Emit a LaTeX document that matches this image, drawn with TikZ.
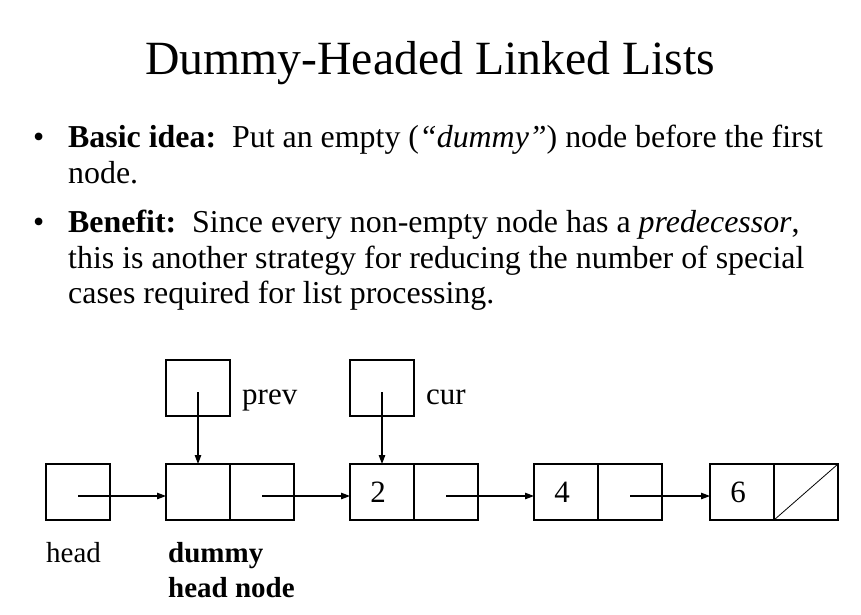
\documentclass[tikz,border=0pt]{standalone}
\usepackage{fontspec}
\setmainfont{Liberation Serif}
\usetikzlibrary{arrows.meta,calc}
\begin{document}
\begin{tikzpicture}[x=1pt,y=-1pt,
  cell/.style={draw,line width=1.2pt,minimum width=64pt,minimum height=56pt,inner sep=0pt,outer sep=0pt,font=\fontsize{31}{36}\selectfont},
  arr/.style={line width=1.1pt,-{Triangle[length=9pt,width=6.5pt]}},
  body/.style={anchor=base west,inner sep=0pt,font=\fontsize{31.9}{36}\selectfont},
  lbl/.style={anchor=base west,inner sep=0pt,font=\fontsize{29}{34}\selectfont},
  plbl/.style={anchor=base west,inner sep=0pt,font=\fontsize{31}{34}\selectfont}]
\useasboundingbox[fill=white] (0,0) rectangle (861,614);
% title
\node[anchor=base,inner sep=0pt,font=\fontsize{47.7}{56}\selectfont] (title) at (430,74) {Dummy-Headed Linked Lists};
% bullets
\node[body] (b1) at (33,147) {\textbullet};
\node[body] (t1a) at (68,147) {\textbf{Basic idea:}\ \ Put an empty (\textit{“dummy”}) node before the first};
\node[body] (t1b) at (68,183) {node.};
\node[body] (b2) at (33,232) {\textbullet};
\node[body] (t2a) at (68,232) {\textbf{Benefit:}\ \ Since every non-empty node has a \textit{predecessor},};
\node[body] (t2b) at (68,268) {this is another strategy for reducing the number of special};
\node[body] (t2c) at (68,303) {cases required for list processing.};
% pointer boxes
\node[cell] (prev) at (198,388) {};
\node[cell] (cur) at (382,388) {};
\node[plbl] (prevl) at (242,404) {prev};
\node[plbl] (curl) at (426,404) {cur};
% list
\node[cell] (head) at (78,492) {};
\node[cell] (d1) at (198,492) {};
\node[cell] (d2) at (262,492) {};
\node[cell] (n2a) at (382,492) {\hspace*{-8pt}2};
\node[cell] (n2b) at (446,492) {};
\node[cell] (n4a) at (566,492) {\hspace*{-8pt}4};
\node[cell] (n4b) at (630,492) {};
\node[cell] (n6a) at (742,492) {\hspace*{-8pt}6};
\node[cell] (n6b) at (806,492) {};
\draw[line width=0.8pt] (n6b.south west) -- (n6b.north east);
% labels
\node[lbl] (headl) at (46,562) {head};
\node[lbl] (dummyl) at (168,562) {\textbf{dummy}};
\node[lbl] (dummyl2) at (168,597) {\textbf{head node}};
% arrows
\draw[arr] ($(head.center)+(0,4)$) -- ($(d1.west)+(0,4)$);
\draw[arr] ($(d2.center)+(0,4)$) -- ($(n2a.west)+(0,4)$);
\draw[arr] ($(n2b.center)+(0,4)$) -- ($(n4a.west)+(0,4)$);
\draw[arr] ($(n4b.center)+(0,4)$) -- ($(n6a.west)+(0,4)$);
\draw[arr] ($(prev.center)+(0,4)$) -- (d1.north);
\draw[arr] ($(cur.center)+(0,4)$) -- (n2a.north);
\end{tikzpicture}
\end{document}
